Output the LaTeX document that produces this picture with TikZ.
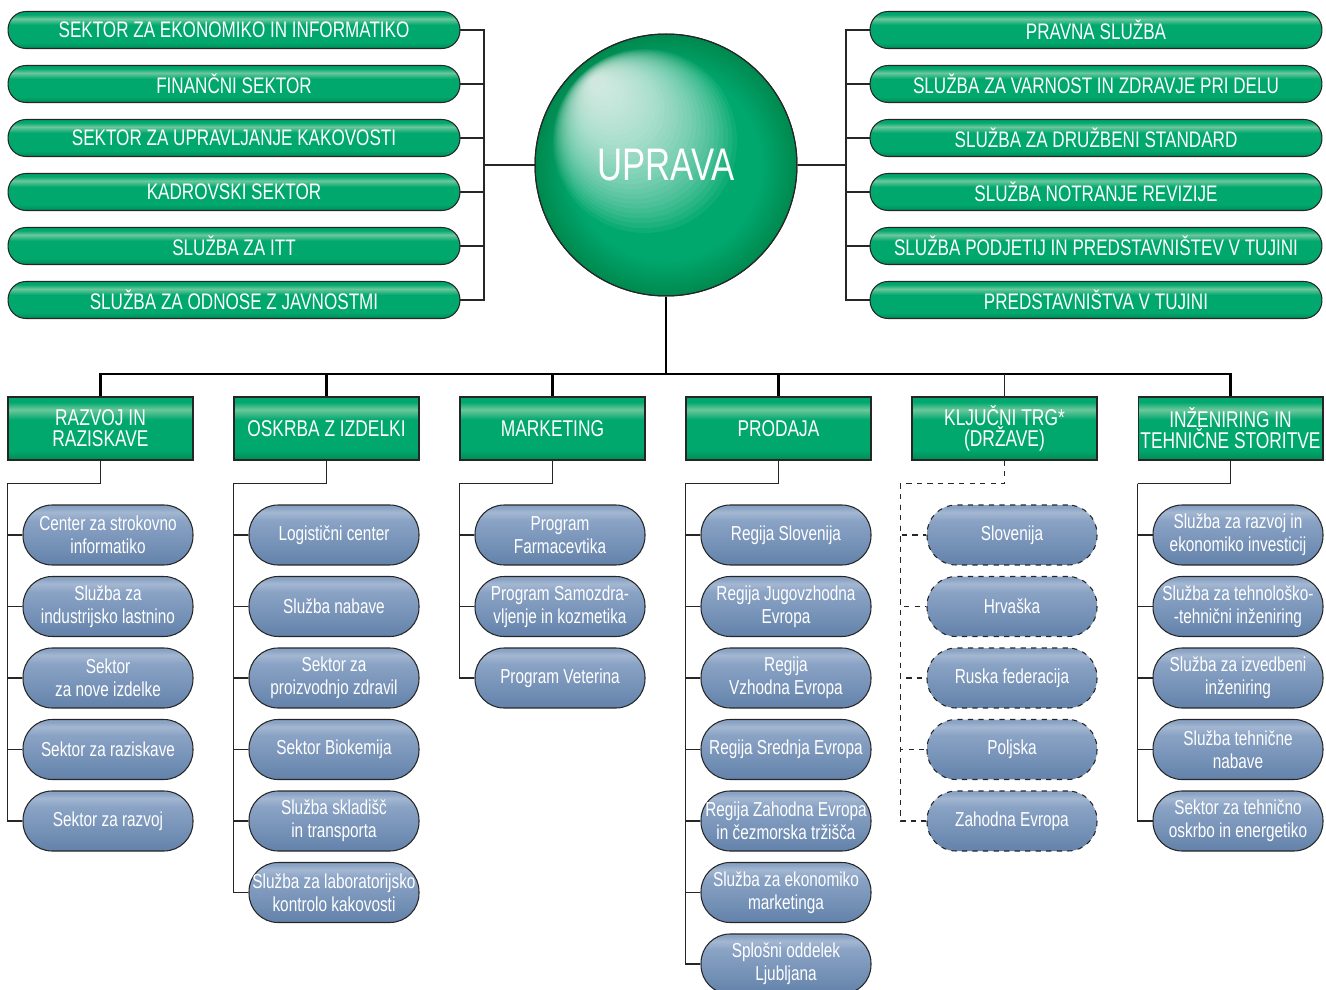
\documentclass[tikz,border=0pt]{standalone}
\usepackage{fontspec}
\setmainfont{Liberation Sans}[FakeStretch=0.76]
\usetikzlibrary{positioning, calc}
\definecolor{grnmain}{HTML}{00A86E}
\definecolor{grnlight}{HTML}{6CC79C}
\definecolor{grndark}{HTML}{008A55}
\definecolor{grnrim}{HTML}{00884E}
\definecolor{blumid}{HTML}{8AA3C5}
\definecolor{blulight}{HTML}{A4B7D1}
\definecolor{bludark}{HTML}{6382AA}
\pgfdeclareverticalshading{greenbar}{100bp}{color(0bp)=(grndark); color(25bp)=(grndark); color(33bp)=(grnmain); color(57bp)=(grnmain); color(65bp)=(grnlight); color(71bp)=(grnmain); color(100bp)=(grnmain)}
\pgfdeclareverticalshading{bluepill}{100bp}{color(0bp)=(bludark); color(25bp)=(bludark); color(62bp)=(blumid); color(69bp)=(blulight); color(73bp)=(blumid); color(100bp)=(blumid)}
\pgfdeclareradialshading{upravarim}{\pgfpointorigin}{color(0bp)=(grnmain); color(18bp)=(grnmain); color(25bp)=(grnrim); color(50bp)=(grnrim)}

\begin{document}
\begin{tikzpicture}[
  x=0.02cm, y=-0.02cm,
  staff/.style={rectangle, rounded corners=0.36cm, draw=black!85, line width=0.6pt, shading=greenbar, shade, minimum width=9.04cm, minimum height=0.74cm, inner sep=0pt, text=white, font=\fontsize{12.8}{14}\selectfont},
  division/.style={rectangle, draw=black!85, line width=0.6pt, shading=greenbar, shade, minimum width=3.7cm, minimum height=1.26cm, inner sep=0pt, text=white, align=center, font=\fontsize{13}{12}\selectfont},
  unit/.style={rectangle, rounded corners=0.58cm, draw=black!85, line width=0.6pt, shading=bluepill, shade, minimum width=3.4cm, minimum height=1.2cm, inner sep=1pt, text=white, align=center, font=\fontsize{11.5}{13}\selectfont},
  market/.style={unit, dashed},
  link/.style={line width=0.6pt, black!85},
  trunk/.style={line width=1.4pt}
]
  \useasboundingbox (0,0) rectangle (1326,990);

  % uprava
  \node[circle, minimum size=5.24cm, inner sep=0pt, draw=black!85, line width=0.6pt, shading=upravarim, shade] (uprava) at (666,165) {};
  \begin{scope}
    \clip (uprava.center) circle (2.6cm);
    \foreach \k in {0,...,29}
      \fill[white, fill opacity=0.06] ({645-1.62*\k},{141-1.97*\k}) circle ({1.84cm-0.058cm*\k});
  \end{scope}
  \draw[black!85, line width=0.6pt] (uprava.center) circle (2.62cm);
  \node[text=white, font=\fontsize{26}{28}\selectfont] (upravatext) at (uprava.center) {UPRAVA};

  % staff services, left
  \node[staff] (l1) at (234,30) {SEKTOR ZA EKONOMIKO IN INFORMATIKO};
  \node[staff] (l2) at (234,84) {FINANČNI SEKTOR};
  \node[staff] (l3) at (234,138) {SEKTOR ZA UPRAVLJANJE KAKOVOSTI};
  \node[staff] (l4) at (234,192) {KADROVSKI SEKTOR};
  \node[staff] (l5) at (234,246) {SLUŽBA ZA ITT};
  \node[staff] (l6) at (234,300) {SLUŽBA ZA ODNOSE Z JAVNOSTMI};

  % staff services, right
  \node[staff] (r1) at (1096,30) {PRAVNA SLUŽBA};
  \node[staff] (r2) at (1096,84) {SLUŽBA ZA VARNOST IN ZDRAVJE PRI DELU};
  \node[staff] (r3) at (1096,138) {SLUŽBA ZA DRUŽBENI STANDARD};
  \node[staff] (r4) at (1096,192) {SLUŽBA NOTRANJE REVIZIJE};
  \node[staff] (r5) at (1096,246) {SLUŽBA PODJETIJ IN PREDSTAVNIŠTEV V TUJINI};
  \node[staff] (r6) at (1096,300) {PREDSTAVNIŠTVA V TUJINI};

  \coordinate (lbus) at (484,165);
  \coordinate (rbus) at (846,165);
  \draw[link] (uprava.west) -- (lbus);
  \draw[link] (uprava.east) -- (rbus);
  \foreach \i in {1,...,6} {
    \draw[link] (l\i.east) -| (lbus);
    \draw[link] (r\i.west) -| (rbus);
  }

  % divisions
  \node[division] (razvoj) at (100.5,428.5) {RAZVOJ IN\\RAZISKAVE};
  \node[division] (oskrba) at (326.5,428.5) {OSKRBA Z IZDELKI};
  \node[division] (marketing) at (552.5,428.5) {MARKETING};
  \node[division] (prodaja) at (778.5,428.5) {PRODAJA};
  \node[division] (trg) at (1004.5,428.5) {KLJUČNI TRG*\\(DRŽAVE)};
  \node[division] (inzeniring) at (1230.5,428.5) {INŽENIRING IN\\TEHNIČNE STORITVE};

  \coordinate (hub) at (666,374);
  \draw[trunk] (uprava.south) -- (hub);
  \foreach \d in {razvoj,oskrba,marketing,prodaja,inzeniring}
    \draw[trunk] (\d.north) |- (hub);
  \draw[link] (trg.north) -- (trg.north |- hub);

  % razvoj in raziskave
  \node[unit] (raz1) at (108,535) {Center za strokovno\\informatiko};
  \node[unit] (raz2) at (108,606.5) {Služba za\\industrijsko lastnino};
  \node[unit] (raz3) at (108,678) {Sektor\\za nove izdelke};
  \node[unit] (raz4) at (108,749.5) {Sektor za raziskave};
  \node[unit] (raz5) at (108,821) {Sektor za razvoj};

  % oskrba z izdelki
  \node[unit] (osk1) at (334,535) {Logistični center};
  \node[unit] (osk2) at (334,606.5) {Služba nabave};
  \node[unit] (osk3) at (334,678) {Sektor za\\proizvodnjo zdravil};
  \node[unit] (osk4) at (334,749.5) {Sektor Biokemija};
  \node[unit] (osk5) at (334,821) {Služba skladišč\\in transporta};
  \node[unit] (osk6) at (334,892.5) {Služba za laboratorijsko\\kontrolo kakovosti};

  % marketing
  \node[unit] (mar1) at (560,535) {Program\\Farmacevtika};
  \node[unit] (mar2) at (560,606.5) {Program Samozdra-\\vljenje in kozmetika};
  \node[unit] (mar3) at (560,678) {Program Veterina};

  % prodaja
  \node[unit] (pro1) at (786,535) {Regija Slovenija};
  \node[unit] (pro2) at (786,606.5) {Regija Jugovzhodna\\Evropa};
  \node[unit] (pro3) at (786,678) {Regija\\Vzhodna Evropa};
  \node[unit] (pro4) at (786,749.5) {Regija Srednja Evropa};
  \node[unit] (pro5) at (786,821) {Regija Zahodna Evropa\\in čezmorska tržišča};
  \node[unit] (pro6) at (786,892.5) {Služba za ekonomiko\\marketinga};
  \node[unit] (pro7) at (786,964) {Splošni oddelek\\Ljubljana};

  % kljucni trg
  \node[market] (trg1) at (1012,535) {Slovenija};
  \node[market] (trg2) at (1012,606.5) {Hrvaška};
  \node[market] (trg3) at (1012,678) {Ruska federacija};
  \node[market] (trg4) at (1012,749.5) {Poljska};
  \node[market] (trg5) at (1012,821) {Zahodna Evropa};

  % inzeniring
  \node[unit] (inz1) at (1238,535) {Služba za razvoj in\\ekonomiko investicij};
  \node[unit] (inz2) at (1238,606.5) {Služba za tehnološko-\\-tehnični inženiring};
  \node[unit] (inz3) at (1238,678) {Služba za izvedbeni\\inženiring};
  \node[unit] (inz4) at (1238,749.5) {Služba tehnične\\nabave};
  \node[unit] (inz5) at (1238,821) {Sektor za tehnično\\oskrbo in energetiko};

  % brackets
  \coordinate (razvoj-j) at ($(razvoj.south west)+(0,23)$);
  \coordinate (oskrba-j) at ($(oskrba.south west)+(0,23)$);
  \coordinate (marketing-j) at ($(marketing.south west)+(0,23)$);
  \coordinate (prodaja-j) at ($(prodaja.south west)+(0,23)$);
  \coordinate (trg-j) at ($(trg.south west)+(-11,23)$);
  \coordinate (inzeniring-j) at ($(inzeniring.south west)+(0,23)$);

  \foreach \d in {razvoj,oskrba,marketing,prodaja,inzeniring}
    \draw[link] (\d.south) |- (\d-j);
  \draw[link, dashed] (trg.south) |- (trg-j);

  \foreach \c in {raz1,raz2,raz3,raz4,raz5}
    \draw[link] (razvoj-j) |- (\c.west);
  \foreach \c in {osk1,osk2,osk3,osk4,osk5,osk6}
    \draw[link] (oskrba-j) |- (\c.west);
  \foreach \c in {mar1,mar2,mar3}
    \draw[link] (marketing-j) |- (\c.west);
  \foreach \c in {pro1,pro2,pro3,pro4,pro5,pro6,pro7}
    \draw[link] (prodaja-j) |- (\c.west);
  \foreach \c in {trg1,trg2,trg3,trg4,trg5}
    \draw[link, dashed] (trg-j) |- (\c.west);
  \foreach \c in {inz1,inz2,inz3,inz4,inz5}
    \draw[link] (inzeniring-j) |- (\c.west);
\end{tikzpicture}
\end{document}
